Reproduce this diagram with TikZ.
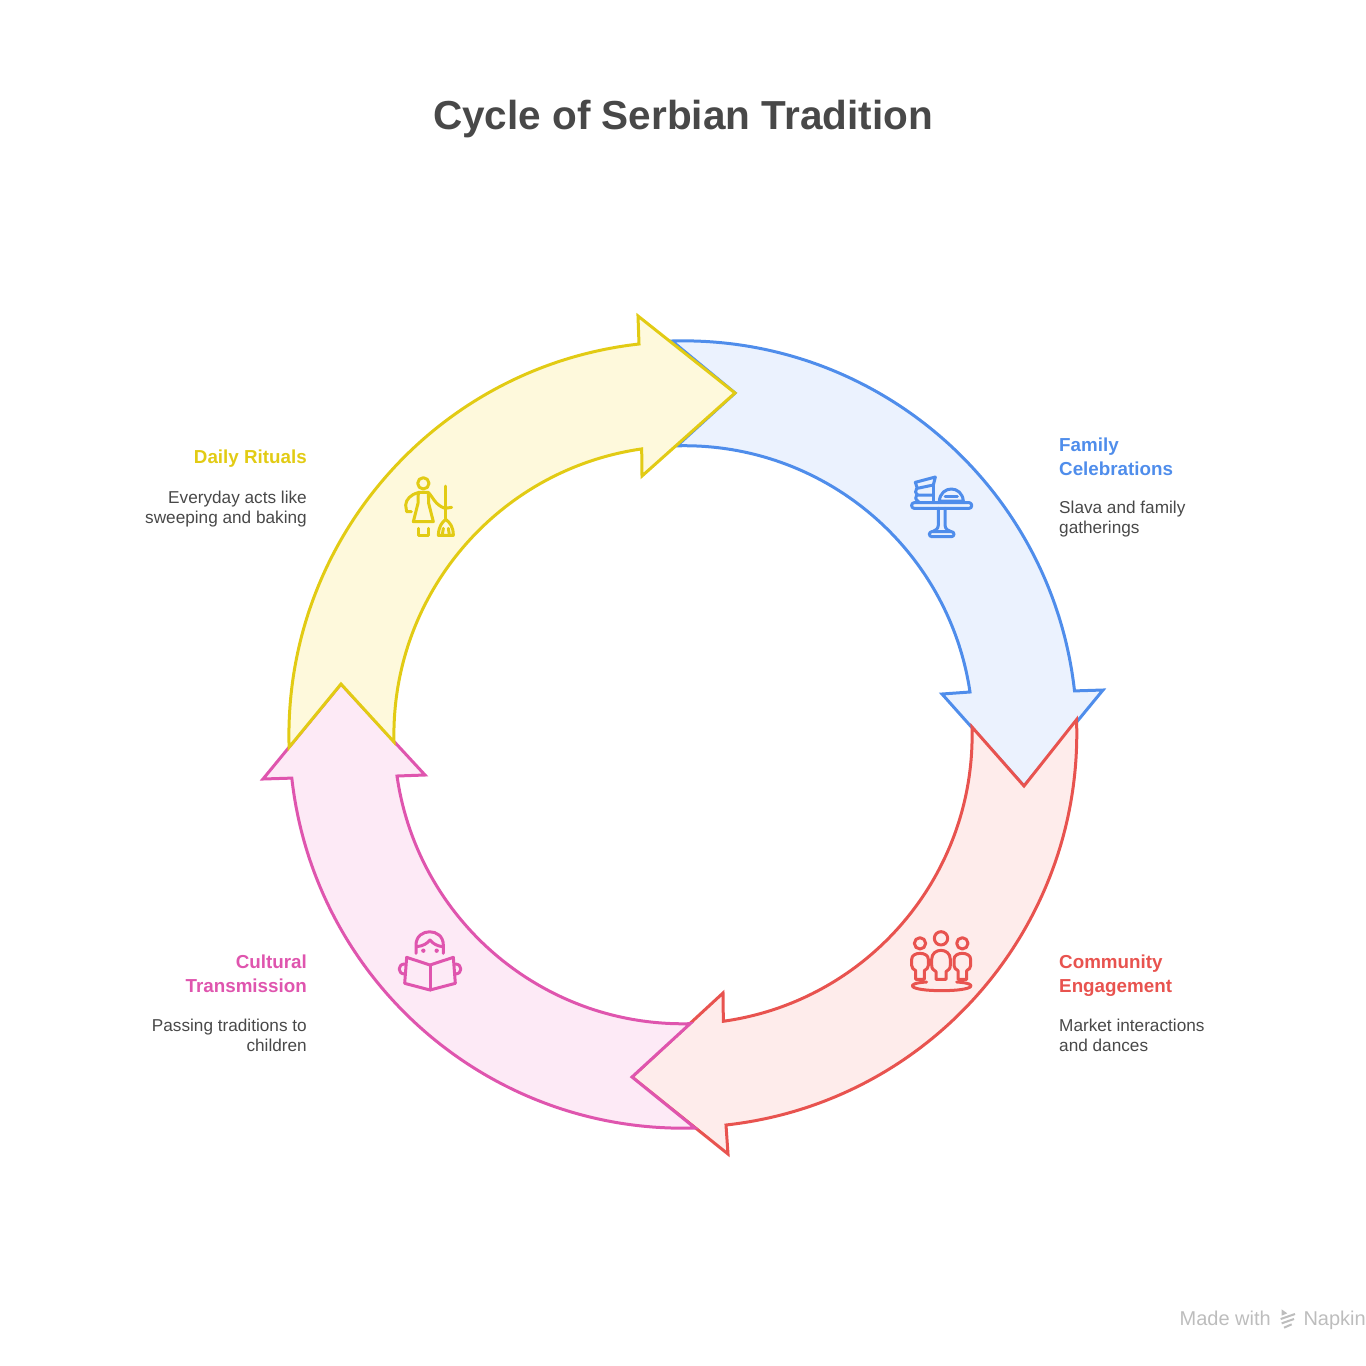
\documentclass[tikz,border=0pt]{standalone}
\usepackage{fontspec}
\setmainfont{Liberation Sans}
\usepackage{tikz}
\definecolor{bluel}{HTML}{4F8DEB}
\definecolor{bluef}{HTML}{EBF2FE}
\definecolor{redl}{HTML}{E8534F}
\definecolor{redf}{HTML}{FEECEB}
\definecolor{pinkl}{HTML}{DF55AE}
\definecolor{pinkf}{HTML}{FDEAF6}
\definecolor{yell}{HTML}{E2CB14}
\definecolor{yelf}{HTML}{FEF9DC}
\definecolor{inkc}{HTML}{484848}
\definecolor{markc}{HTML}{BDBDBD}
\tikzset{
  headtxt/.style={font=\bfseries\fontsize{18.8}{24}\selectfont, inner sep=0pt},
  bodytxt/.style={font=\fontsize{17.2}{20.8}\selectfont, text=inkc, inner sep=0pt},
  seg/.style={line width=3pt, line join=miter},
  ico/.style={line width=3pt, line cap=round, line join=round}
}
\begin{document}
\begin{tikzpicture}[x=1pt,y=-1pt]
  \useasboundingbox (0,0) rectangle (1366,1366);

  \node[font=\bfseries\fontsize{40.5}{48}\selectfont, text=inkc, inner sep=0pt] (title) at (683,119) {Cycle of Serbian Tradition};

  % arrows, centre (683,735), radii 289 and 394
  \draw[seg, draw=bluel, fill=bluef] (672,341) arc (-91.6:-6.4:394) -- (1103,690) -- (1024,786) -- (942,694) -- (970,692) arc (-8.5:-91.4:289) -- (735,393) -- cycle;
  \draw[seg, draw=redl, fill=redf] (972,727) arc (-1.6:82:289) -- (723,993) -- (632,1077) -- (728,1154) -- (726,1125) arc (83.7:-2:394) -- (1024,786) -- cycle;
  \draw[seg, draw=pinkl, fill=pinkf] (695,1128) arc (88.3:173.6:394) -- (263,779) -- (341,684) -- (425,775) -- (397,776) arc (171.8:88.6:289) -- (632,1077) -- cycle;
  \draw[seg, draw=yell, fill=yelf] (394,742) arc (178.6:261.8:289) -- (642,476) -- (735,393) -- (638,316) -- (639,344) arc (263.6:178.3:394) -- (341,684) -- cycle;

  % icon daily rituals
  \begin{scope}[ico, draw=yell, shift={(390,460)}, scale=1/3]
    \draw (100,70) circle (17);
    \draw (85,97) -- (115,97) -- (116,130) -- (130,185) -- (70,185) -- (84,130) -- cycle;
    \draw (84,98) .. controls (62,104) and (48,118) .. (47,135) -- (50,155) -- (64,155);
    \draw (116,98) .. controls (128,110) and (135,135) .. (165,145) -- (185,142);
    \draw (85,205) -- (85,226) -- (115,226) -- (115,205);
    \draw (167,78) -- (167,175);
    \draw (167,178) .. controls (155,188) and (146,200) .. (145,226) -- (190,226) .. controls (190,200) and (180,188) .. (167,178);
    \draw (160,205) -- (157,224) (175,205) -- (178,224);
  \end{scope}
  % icon family celebrations
  \begin{scope}[ico, draw=bluel, shift={(900,465)}, scale=1/3]
    \draw[rounded corners=2.5] (35,113) rectangle (215,130);
    \draw (115,130) -- (115,180) .. controls (115,192) and (105,198) .. (97,200);
    \draw (135,130) -- (135,180) .. controls (135,192) and (145,198) .. (153,200);
    \draw[rounded corners=2.5] (88,200) rectangle (162,215);
    \draw (118,108) .. controls (122,60) and (186,60) .. (190,108) -- cycle;
    \draw (135,93) -- (172,93);
    \draw (46,52) -- (106,36) -- (100,60) -- (52,70) -- cycle;
    \draw (50,70) .. controls (44,76) and (46,86) .. (54,90) -- (98,90);
    \draw (50,90) .. controls (44,96) and (46,104) .. (56,110);
    \draw (100,62) -- (100,108);
  \end{scope}
  % icon community
  \begin{scope}[ico, draw=redl, shift={(900,920)}, scale=1/3]
    \draw (123,55) circle (20);
    \draw (60,70) circle (17);
    \draw (187,70) circle (17);
    \draw (108,178) -- (108,155) .. controls (100,150) and (95,146) .. (95,135) -- (95,118) .. controls (95,82) and (151,82) .. (151,118) -- (151,135) .. controls (151,146) and (146,150) .. (138,155) -- (138,178) -- cycle;
    \draw (47,178) -- (47,152) .. controls (40,148) and (35,144) .. (35,136) -- (35,118) .. controls (35,94) and (85,94) .. (85,118) -- (85,136) .. controls (85,144) and (80,148) .. (73,152) -- (73,178) -- cycle;
    \draw (174,178) -- (174,152) .. controls (167,148) and (162,144) .. (162,136) -- (162,118) .. controls (162,94) and (212,94) .. (212,118) -- (212,136) .. controls (212,144) and (207,148) .. (200,152) -- (200,178) -- cycle;
    \draw (80,186) .. controls (10,190) and (25,212) .. (125,212) .. controls (225,212) and (240,190) .. (170,186);
  \end{scope}
  % icon cultural
  \begin{scope}[ico, draw=pinkl, shift={(390,920)}, scale=1/3]
    \draw (78,100) -- (78,75) .. controls (78,22) and (160,22) .. (160,75) -- (160,100);
    \draw (80,80) .. controls (100,78) and (112,70) .. (120,60) .. controls (128,70) and (140,78) .. (158,80);
    \fill[pinkl] (100,92) circle (6.5) (140,92) circle (6.5);
    \draw (120,135) -- (50,112) -- (44,190) -- (120,210) -- (196,190) -- (190,112) -- cycle;
    \draw (120,135) -- (120,210);
    \draw (44,132) .. controls (22,132) and (22,162) .. (44,162);
    \draw (196,132) .. controls (218,132) and (218,162) .. (196,162);
  \end{scope}

  \node[headtxt, text=yell, anchor=east] (dailyhead) at (307,459) {Daily Rituals};
  \node[bodytxt, anchor=north east, align=right] (dailybody) at (307,490.5) {Everyday acts like\\sweeping and baking};

  \node[headtxt, text=bluel, anchor=north west, align=left] (familyhead) at (1059,438) {Family\\Celebrations};
  \node[bodytxt, anchor=north west, align=left] (familybody) at (1059,500.5) {Slava and family\\gatherings};

  \node[headtxt, text=redl, anchor=north west, align=left] (commhead) at (1059,955) {Community\\Engagement};
  \node[bodytxt, anchor=north west, align=left] (commbody) at (1059,1018.5) {Market interactions\\and dances};

  \node[headtxt, text=pinkl, anchor=north east, align=right] (culthead) at (307,955) {Cultural\\Transmission};
  \node[bodytxt, anchor=north east, align=right] (cultbody) at (307,1018.5) {Passing traditions to\\children};

  \node[font=\fontsize{20}{24}\selectfont, text=markc, anchor=base east, inner sep=0pt] (brand) at (1271,1325) {Made with};
  \node[font=\fontsize{20}{24}\selectfont, text=markc, anchor=base east, inner sep=0pt] (napkin) at (1366,1325) {Napkin};
  \begin{scope}[shift={(1170,1295)}, scale=1/3]
    \fill[markc] (335,43) -- (352,55) -- (335,62) -- cycle;
    \draw[line width=2pt, markc] (332,72) -- (375,57) (335,85) -- (372,72) (342,98) -- (365,88);
  \end{scope}
\end{tikzpicture}
\end{document}
